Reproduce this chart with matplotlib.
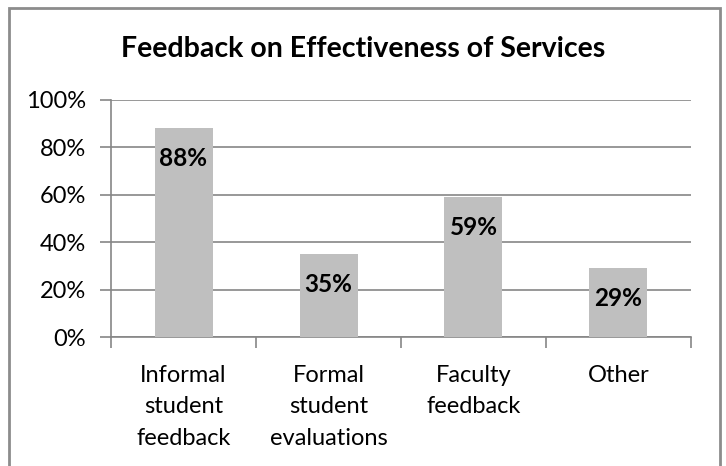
import matplotlib.pyplot as plt
from matplotlib.patches import Rectangle
from matplotlib.ticker import FixedLocator, PercentFormatter

categories = ["Informal\nstudent\nfeedback", "Formal\nstudent\nevaluations",
              "Faculty\nfeedback", "Other"]
values = [88, 35, 59, 29]
y_ticks = [0, 20, 40, 60, 80, 100]

plt.rcParams['font.family'] = ['Lato', 'DejaVu Sans']

fig = plt.figure(figsize=(7.26, 4.66), dpi=100)
ax = fig.add_axes([111 / 726, 1 - 337 / 466, 580 / 726, 237 / 466])

grey = "#868686"
x = range(len(categories))
bars = ax.bar(x, values, width=0.4, color="#bfbfbf", zorder=3)

for b, v in zip(bars, values):
    ax.annotate(f"{v}%", (b.get_x() + b.get_width() / 2, v),
                xytext=(0, -22), textcoords="offset points",
                ha="center", va="center", fontsize=17.5, fontweight="bold",
                zorder=4)

ax.set_xlim(-0.5, len(categories) - 0.5)
ax.set_ylim(0, 100)
ax.set_yticks(y_ticks)
ax.yaxis.set_major_formatter(PercentFormatter(decimals=0))
ax.grid(axis="y", color=grey, linewidth=1.2, zorder=0)

ax.set_xticks(list(x))
ax.set_xticklabels(categories, fontsize=17, linespacing=1.63)
ax.xaxis.set_minor_locator(FixedLocator([i - 0.5 for i in range(len(categories) + 1)]))
ax.tick_params(axis="x", which="major", length=0, pad=20)
ax.tick_params(axis="x", which="minor", length=8, color=grey, width=1.2)
ax.tick_params(axis="y", length=8, color=grey, width=1.2, labelsize=17, pad=10)

for s in ["top", "right"]:
    ax.spines[s].set_visible(False)
for s in ["left", "bottom"]:
    ax.spines[s].set_color(grey)
    ax.spines[s].set_linewidth(1.2)

fig.text(0.5, 1 - 49 / 466, "Feedback on Effectiveness of Services",
         ha="center", va="center", fontsize=20.5, fontweight="bold")

fig.patches.append(Rectangle((9 / 726, -0.05), 711 / 726, 1.05 - 8 / 466,
                             transform=fig.transFigure, fill=False,
                             edgecolor="#8c8c8c", linewidth=2))

fig.savefig("out.png", dpi=100)
